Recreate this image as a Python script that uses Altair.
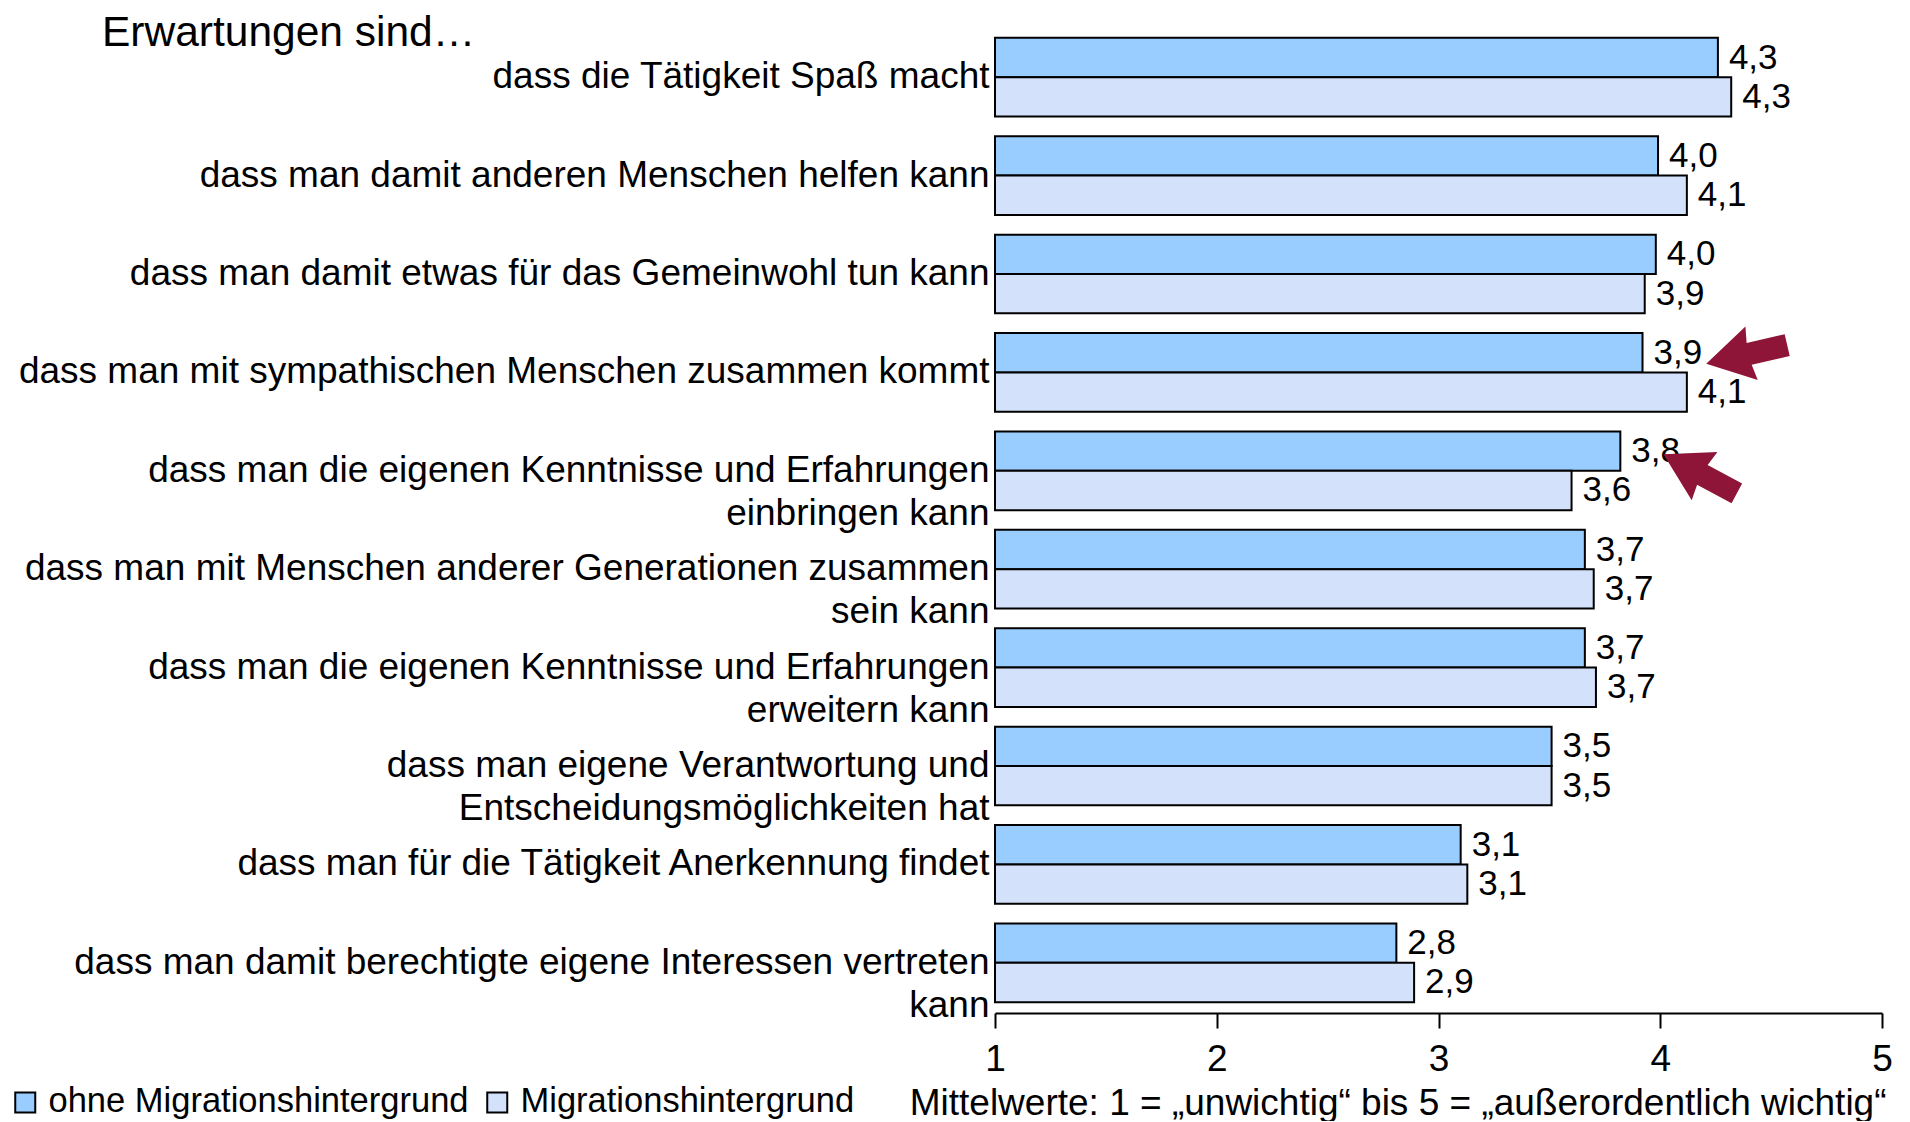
import altair as alt
import pandas as pd

F = "Liberation Sans, Arial, sans-serif"

categories = [
    "dass die Tätigkeit Spaß macht",
    "dass man damit anderen Menschen helfen kann",
    "dass man damit etwas für das Gemeinwohl tun kann",
    "dass man mit sympathischen Menschen zusammen kommt",
    "dass man die eigenen Kenntnisse und Erfahrungen|einbringen kann",
    "dass man mit Menschen anderer Generationen zusammen|sein kann",
    "dass man die eigenen Kenntnisse und Erfahrungen|erweitern kann",
    "dass man eigene Verantwortung und|Entscheidungsmöglichkeiten hat",
    "dass man für die Tätigkeit Anerkennung findet",
    "dass man damit berechtigte eigene Interessen vertreten|kann",
]
series = ["ohne Migrationshintergrund", "Migrationshintergrund"]
ohne = [4.26, 3.99, 3.98, 3.92, 3.82, 3.66, 3.66, 3.51, 3.10, 2.81]
mit = [4.32, 4.12, 3.93, 4.12, 3.60, 3.70, 3.71, 3.51, 3.13, 2.89]
colors = ["#99CCFF", "#D3E1FA"]

# annotation arrows (data coordinates)
arrow_cat = [categories[3], categories[4]]
arrow_x = [4.39, 4.18]
arrow_angle = [347, 28]

rows = []
for c, a, b in zip(categories, ohne, mit):
    rows.append({"cat": c, "series": series[0], "value": a,
                 "label": f"{a:.1f}".replace(".", ",")})
    rows.append({"cat": c, "series": series[1], "value": b,
                 "label": f"{b:.1f}".replace(".", ",")})
df = pd.DataFrame(rows)

arrows = pd.DataFrame({"cat": arrow_cat, "x": arrow_x, "angle": arrow_angle})

ARROW = "M -1 0 L 0.12 -0.66 L 0.06 -0.27 L 1 -0.27 L 1 0.27 L 0.06 0.27 L 0.12 0.66 Z"

yenc = alt.Y(
    "cat:N", sort=categories,
    scale=alt.Scale(paddingInner=0.2, paddingOuter=0.11),
    axis=alt.Axis(title=None, domain=False, ticks=False, labelFontSize=37,
                  labelFont=F, labelColor="black", labelPadding=6,
                  labelExpr="split(datum.label, '|')", labelLineHeight=43,
                  labelLimit=1500, labelBaseline="middle"),
)
yoff = alt.YOffset("series:N", sort=series,
                   scale=alt.Scale(paddingInner=0, paddingOuter=0))

xscale = alt.Scale(domain=[1, 5], zero=False, nice=False)

bars = alt.Chart(df).mark_bar(stroke="black", strokeWidth=2).encode(
    y=yenc,
    yOffset=yoff,
    x=alt.X("value:Q", scale=xscale,
            axis=alt.Axis(values=[1, 2, 3, 4, 5], format="d", grid=False,
                          domainColor="black", domainWidth=2,
                          tickColor="black", tickWidth=2, tickSize=15,
                          labelFontSize=37, labelFont=F, labelColor="black",
                          labelPadding=13, labelFlush=False,
                          title="Mittelwerte: 1 = „unwichtig“ bis 5 = „außerordentlich wichtig“",
                          titleFontSize=37, titleFont=F, titleFontWeight="normal",
                          titleColor="black", titleAlign="right", titleAnchor="end",
                          titleX=891, titleY=90, titleBaseline="middle")),
    x2=alt.datum(1),
    color=alt.Color("series:N", sort=series,
                    scale=alt.Scale(domain=series, range=colors),
                    legend=alt.Legend(title=None, orient="none", legendX=-987,
                                      legendY=1058, direction="horizontal",
                                      labelFontSize=34.5, labelFont=F,
                                      labelColor="black", labelLimit=800,
                                      symbolType="square",
                                      symbolSize=400, symbolStrokeColor="black",
                                      symbolStrokeWidth=2, labelOffset=6,
                                      columnPadding=11, padding=0)),
)

labels = alt.Chart(df).mark_text(align="left", baseline="middle", dx=11,
                                 fontSize=35, font=F, color="black").encode(
    y=alt.Y("cat:N", sort=categories),
    yOffset=alt.YOffset("series:N", sort=series),
    x=alt.X("value:Q", scale=xscale),
    text="label:N",
)

arrow1 = alt.Chart(arrows.iloc[[0]]).mark_point(
    shape=ARROW, size=6900, filled=True, color="#8E1538", opacity=1,
    yOffset=-18, strokeWidth=0).encode(
    y=alt.Y("cat:N", sort=categories),
    x=alt.X("x:Q", scale=xscale),
    angle=alt.Angle("angle:Q", scale=None),
)
arrow2 = alt.Chart(arrows.iloc[[1]]).mark_point(
    shape=ARROW, size=6900, filled=True, color="#8E1538", opacity=1,
    yOffset=3, strokeWidth=0).encode(
    y=alt.Y("cat:N", sort=categories),
    x=alt.X("x:Q", scale=xscale),
    angle=alt.Angle("angle:Q", scale=None),
)

chart = alt.layer(bars, labels, arrow1, arrow2).properties(
    width=887, height=986,
    background="white",
    padding={"left": 0, "top": 3, "right": 5, "bottom": 0},
    title=alt.TitleParams("Erwartungen sind…", anchor="start", frame="group",
                          dx=-893, dy=48, offset=0, fontSize=42.5, font=F,
                          fontWeight="normal", color="black", baseline="middle"),
).configure_view(strokeWidth=0, stroke="transparent")

chart.save("out.html", embed_options={"renderer": "svg", "actions": False})
